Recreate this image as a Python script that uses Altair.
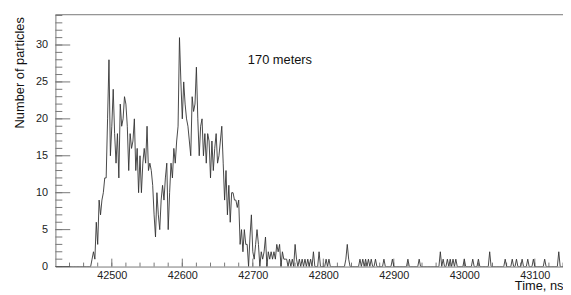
import altair as alt
import pandas as pd

# ---- data (2 ns bins starting at 42420 ns) ----
t_start = 42420
bin_ns = 2

seg_42420 = [0, 0, 0, 0, 0, 0, 0, 0, 0, 0, 0, 0, 0, 0, 0, 0, 0, 0, 0, 0, 0, 0, 0, 0, 0,
             0, 1, 2, 1, 6, 3, 9, 7, 9, 10, 12, 12, 20, 28, 15, 19, 24, 18, 14, 18, 12, 22, 19, 20, 23]
seg_42520 = [22, 19, 13, 18, 16, 17, 20, 13, 16, 10, 15, 10, 14, 16, 14, 19, 13, 14, 13, 11,
             7, 4, 10, 7, 5, 9, 11, 9, 12, 14, 5, 10, 14, 12, 16, 14, 17, 19, 31, 25,
             20, 25, 22, 20, 19, 17, 15, 23, 21, 22]
seg_42620 = [27, 20, 15, 19, 20, 15, 18, 14, 18, 17, 12, 17, 13, 16, 18, 14, 15, 17, 19, 14,
             9, 13, 7, 11, 6, 10, 10, 9, 9, 8, 9, 3, 5, 2, 5, 3, 3, 0, 4, 7,
             2, 1, 3, 5, 3, 0, 2, 1, 2, 4]
seg_42720 = [0, 2, 1, 2, 1, 2, 1, 3, 2, 3, 0, 2, 1, 1, 1, 0, 1, 0, 1, 0,
             3, 1, 0, 1, 0, 1, 0, 1, 0, 1, 0, 1, 0, 2, 0, 0, 0, 2, 0, 0,
             0, 0, 1, 0, 1, 0, 0, 0, 0, 0]
seg_42820 = [0, 0, 0, 0, 0, 0, 1, 3, 1, 0, 0, 0, 0, 0, 0, 0, 1, 0, 1, 0,
             1, 0, 1, 0, 1, 0, 0, 1, 0, 0, 0, 0, 0, 1, 0, 0, 0, 0, 0, 1,
             0, 0, 0, 0, 0, 0, 0, 0, 0, 0]
seg_42920 = [1, 0, 0, 0, 0, 0, 0, 0, 1, 0, 0, 0, 0, 0, 0, 0, 0, 0, 0, 0,
             0, 0, 0, 2, 0, 1, 0, 0, 1, 0, 1, 0, 1, 0, 1, 0, 0, 0, 0, 0,
             1, 0, 0, 0, 0, 0, 1, 0, 0, 0]
seg_43020 = [1, 0, 0, 0, 0, 0, 0, 0, 2, 0, 0, 0, 0, 0, 0, 0, 0, 0, 0, 1,
             0, 0, 0, 0, 1, 0, 0, 1, 0, 0, 0, 1, 0, 0, 0, 1, 0, 0, 0, 1,
             0, 0, 0, 0, 0, 0, 0, 1, 0, 0]
seg_43120 = [0, 0, 0, 0, 0, 0, 0, 2, 0, 0, 0]

x_major = [42500, 42600, 42700, 42800, 42900, 43000, 43100]
y_major = [0, 5, 10, 15, 20, 25, 30]
x_minor = list(range(42440, 43141, 20))
y_minor = list(range(0, 35, 1))

label_text = ["170 meters"]
label_t = [42693]
label_n = [27.95]

counts = seg_42420 + seg_42520 + seg_42620 + seg_42720 + seg_42820 + seg_42920 + seg_43020 + seg_43120
times = [t_start + bin_ns * i for i in range(len(counts))]
df = pd.DataFrame({"t": times, "n": counts})

W, H = 514, 255
AX = "#777777"
FONT = "Liberation Sans"

x_scale = alt.Scale(domain=[42420, 43140], nice=False, zero=False)
y_scale = alt.Scale(domain=[0, 34.1], nice=False)

line = alt.Chart(df).mark_line(color="#333333", strokeWidth=0.9, clip=True).encode(
    x=alt.X("t:Q", scale=x_scale,
            axis=alt.Axis(values=x_major, format="d", ticks=False, grid=False, domainColor=AX,
                          labelFont=FONT, labelFontSize=11, labelColor="#222222",
                          labelPadding=3, labelFlush=False,
                          title="Time, ns", titleFont=FONT, titleFontSize=13,
                          titleFontWeight="normal", titleColor="#111111",
                          titleAnchor="end", titleAlign="right", titleX=W, titleY=23,
                          titleBaseline="alphabetic")),
    y=alt.Y("n:Q", scale=y_scale,
            axis=alt.Axis(values=y_major, format="d", ticks=False, grid=False, domainColor=AX,
                          labelFont=FONT, labelFontSize=11, labelColor="#222222",
                          labelPadding=8, labelFlush=False,
                          title="Number of particles", titleFont=FONT, titleFontSize=13,
                          titleFontWeight="normal", titleColor="#111111",
                          titleAngle=270, titleAlign="right", titleX=-36, titleY=2,
                          titleBaseline="middle")),
)

xminor = alt.Chart(pd.DataFrame({"t": x_minor})).mark_rule(color=AX, strokeWidth=1).encode(
    x=alt.X("t:Q", scale=x_scale), y=alt.value(H), y2=alt.value(H - 4))
xmajor = alt.Chart(pd.DataFrame({"t": x_major})).mark_rule(color=AX, strokeWidth=1).encode(
    x=alt.X("t:Q", scale=x_scale), y=alt.value(H), y2=alt.value(H - 8))
yminor = alt.Chart(pd.DataFrame({"n": y_minor})).mark_rule(color=AX, strokeWidth=1).encode(
    y=alt.Y("n:Q", scale=y_scale), x=alt.value(0), x2=alt.value(7))
ymajor = alt.Chart(pd.DataFrame({"n": y_major})).mark_rule(color=AX, strokeWidth=1).encode(
    y=alt.Y("n:Q", scale=y_scale), x=alt.value(0), x2=alt.value(15))
top = alt.Chart(pd.DataFrame({"a": [0]})).mark_rule(color=AX, strokeWidth=1).encode(
    x=alt.value(0), x2=alt.value(W), y=alt.value(0))

txt = alt.Chart(pd.DataFrame({"t": label_t, "n": label_n, "s": label_text})).mark_text(
    align="left", baseline="middle", font=FONT, fontSize=13, color="#111111").encode(
    x=alt.X("t:Q", scale=x_scale), y=alt.Y("n:Q", scale=y_scale), text="s:N")

chart = alt.layer(xminor, xmajor, yminor, ymajor, top, line, txt).properties(
    width=W, height=H,
    autosize=alt.AutoSizeParams(type="none"),
    padding={"left": 48, "top": 5, "right": 0, "bottom": 27},
    background="white",
).configure_view(stroke=None)

chart.save("out.html", embed_options={"renderer": "svg", "actions": False})
